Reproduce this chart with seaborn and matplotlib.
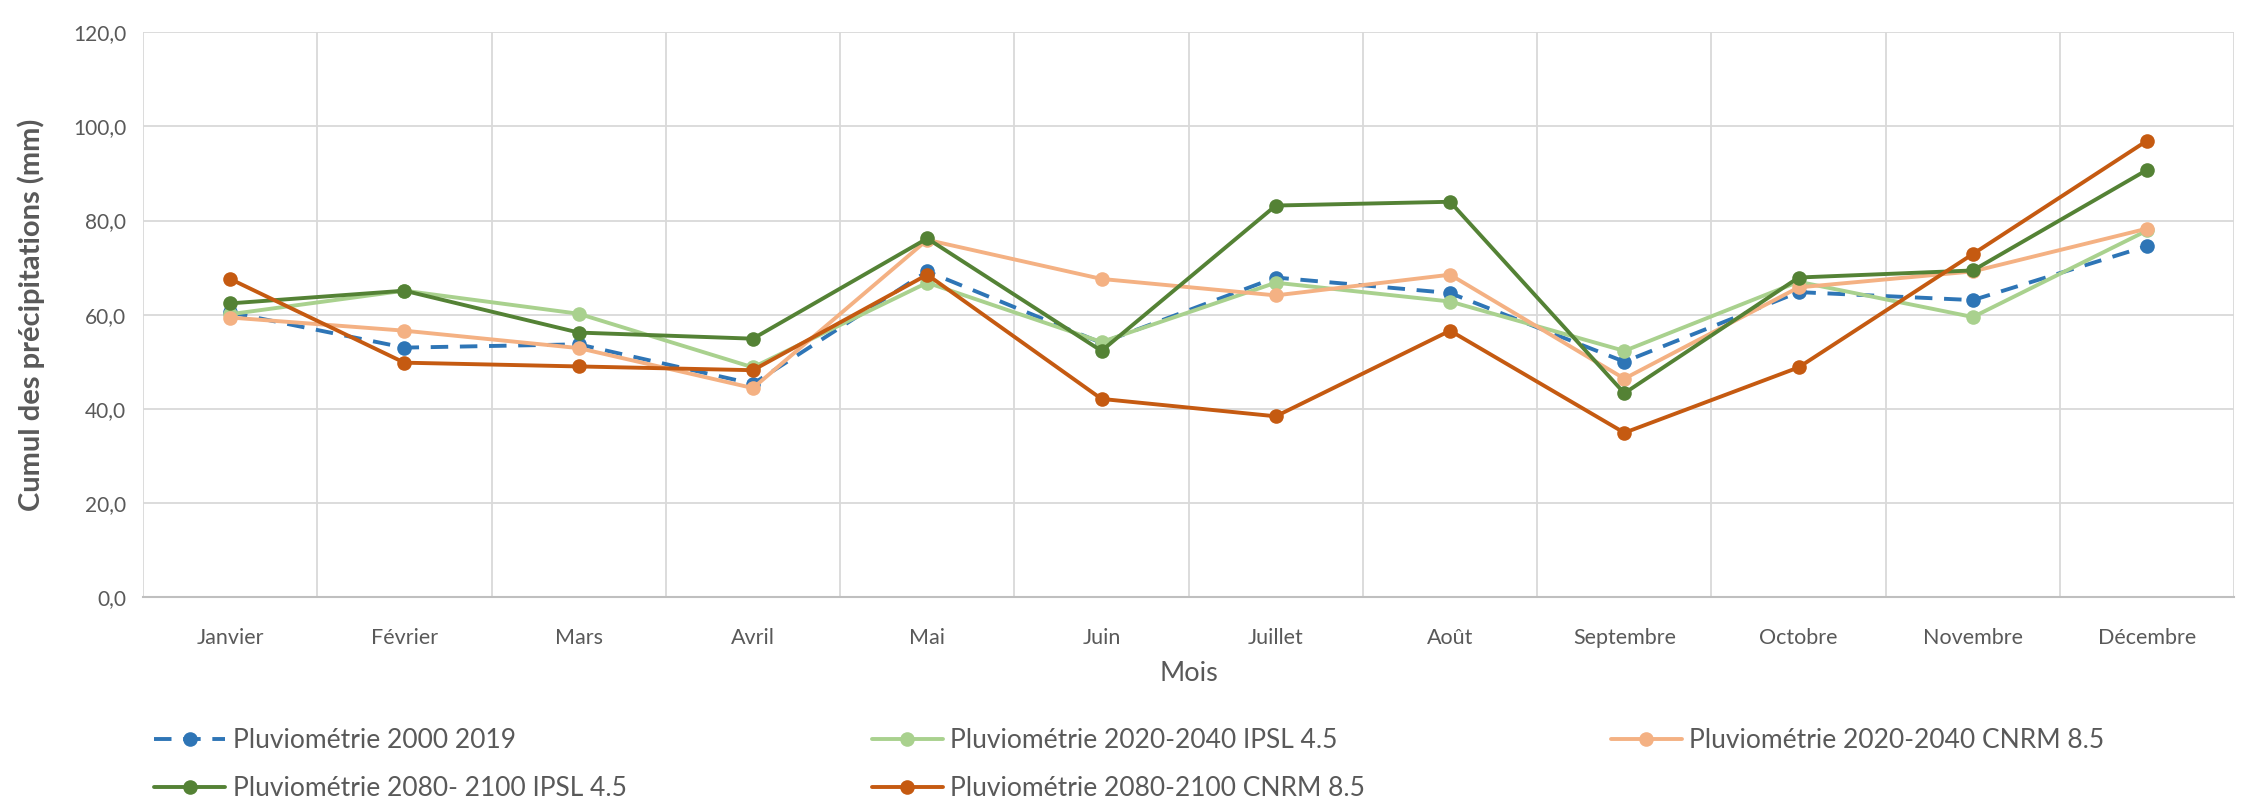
import matplotlib
matplotlib.use("Agg")
import matplotlib.pyplot as plt
import seaborn as sns
import numpy as np
import pandas as pd
from matplotlib.ticker import FuncFormatter

months = ["Janvier", "Février", "Mars", "Avril", "Mai", "Juin", "Juillet",
          "Août", "Septembre", "Octobre", "Novembre", "Décembre"]

pluvio_2000_2019 = [60.5, 53.0, 53.7, 45.3, 69.2, 54.0, 67.9, 64.6, 50.0, 64.8, 63.1, 74.6]
pluvio_2020_2040_ipsl = [60.1, 65.1, 60.2, 48.8, 66.8, 54.2, 66.8, 62.8, 52.3, 67.0, 59.5, 77.9]
pluvio_2020_2040_cnrm = [59.4, 56.6, 52.9, 44.4, 75.9, 67.6, 64.1, 68.5, 46.4, 65.8, 69.2, 78.3]
pluvio_2080_2100_ipsl = [62.4, 65.1, 56.2, 54.9, 76.2, 52.3, 83.2, 84.0, 43.3, 67.9, 69.4, 90.8]
pluvio_2080_2100_cnrm = [67.6, 49.8, 49.0, 48.2, 68.5, 42.1, 38.4, 56.6, 34.9, 48.8, 72.9, 97.0]

series_names = ["Pluviométrie 2000 2019",
                "Pluviométrie 2020-2040 IPSL 4.5",
                "Pluviométrie 2020-2040 CNRM 8.5",
                "Pluviométrie 2080- 2100 IPSL 4.5",
                "Pluviométrie 2080-2100 CNRM 8.5"]
series_values = [pluvio_2000_2019, pluvio_2020_2040_ipsl, pluvio_2020_2040_cnrm,
                 pluvio_2080_2100_ipsl, pluvio_2080_2100_cnrm]
colors = ["#2E75B6", "#A9D18E", "#F4B183", "#548235", "#C55A11"]

sns.set_theme(style="white")
plt.rcParams["font.family"] = ["Lato", "DejaVu Sans"]

fig = plt.figure(figsize=(22.44, 8.10), dpi=100)
ax = fig.add_axes([0.0637, 0.263, 0.932, 0.697])

x = np.arange(len(months))
handles = []
for i, (name, vals, col) in enumerate(zip(series_names, series_values, colors)):
    df = pd.DataFrame({"x": x, "y": vals})
    sns.lineplot(data=df, x="x", y="y", ax=ax, color=col, linewidth=2.8,
                 marker="o", markersize=10.5, markeredgewidth=0,
                 label=name, zorder=3 + i)
    line = ax.get_lines()[-1]
    if i == 0:
        line.set_dashes((4.5, 3))
    handles.append(line)

ax.set_xlim(-0.5, 11.5)
ax.set_ylim(0, 120)
ax.set_yticks(np.arange(0, 121, 20))
ax.yaxis.set_major_formatter(FuncFormatter(lambda v, p: f"{v:.1f}".replace(".", ",")))
ax.set_xticks(x)
ax.set_xticklabels(months)
ax.set_xticks(np.arange(-0.5, 12, 1), minor=True)
ax.grid(False)
ax.grid(axis="y", which="major", color="#D9D9D9", linewidth=1.3)
ax.grid(axis="x", which="minor", color="#D9D9D9", linewidth=1.3)
ax.tick_params(axis="both", which="both", length=0)
ax.tick_params(axis="x", which="major", pad=22, labelsize=15.5, labelcolor="#595959")
ax.tick_params(axis="y", which="major", pad=12, labelsize=15, labelcolor="#595959")

for s in ["top", "right", "left"]:
    ax.spines[s].set_visible(False)
ax.spines["bottom"].set_color("#BFBFBF")
ax.spines["bottom"].set_linewidth(1.5)
ax.set_axisbelow(True)

ax.set_xlabel("Mois", fontsize=19.5, color="#595959", labelpad=10)
ax.set_ylabel("Cumul des précipitations (mm)", fontsize=21, fontweight="bold",
              color="#595959", labelpad=20)

ax.get_legend().remove()
order = [0, 3, 1, 4, 2]
leg = fig.legend([handles[k] for k in order], [series_names[k] for k in order],
                 ncol=3, loc="upper left", bbox_to_anchor=(0.058, 0.13),
                 frameon=False, fontsize=19, handlelength=2.7, handletextpad=0.28,
                 columnspacing=9.3, labelspacing=0.85, labelcolor="#595959")

fig.savefig("out.png", dpi=100, facecolor="white")
